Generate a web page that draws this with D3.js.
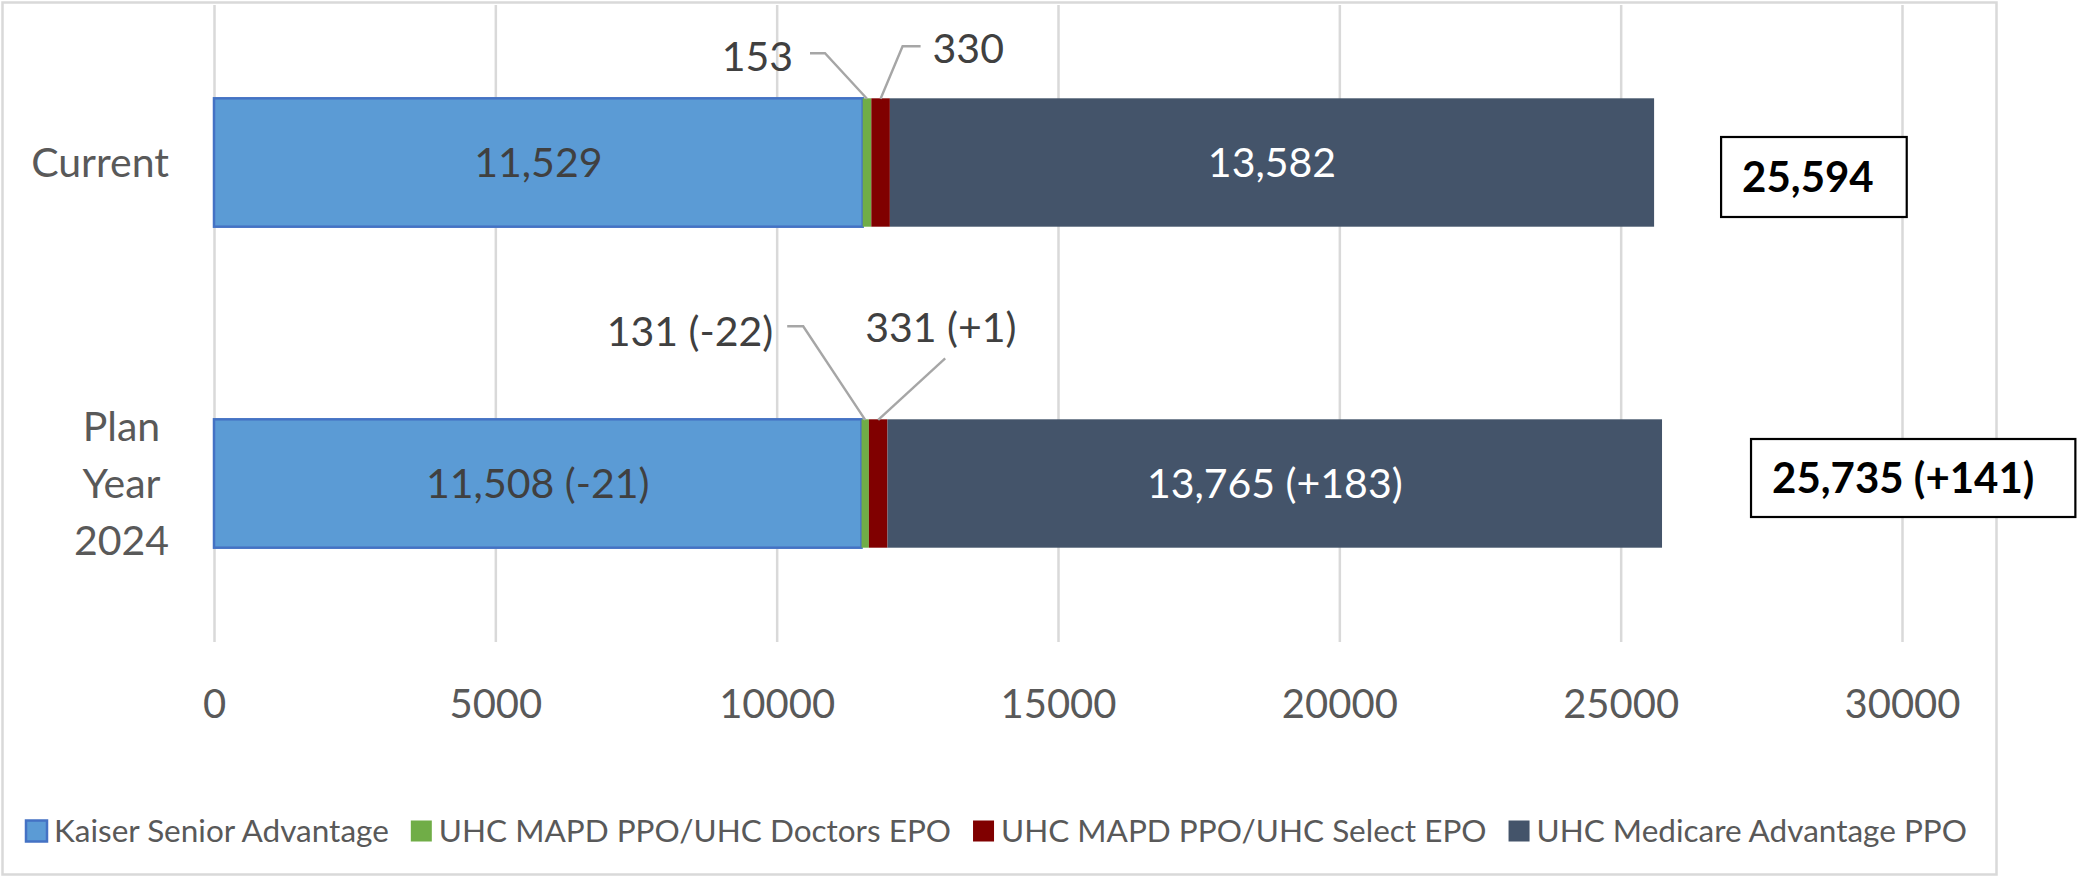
<!DOCTYPE html>
<html>
<head>
<meta charset="utf-8">
<script src="https://cdn.jsdelivr.net/npm/d3@7"></script>
<style>
  html, body { margin: 0; padding: 0; background: #ffffff; }
  svg { display: block; }
  text { font-family: Lato, "Open Sans", sans-serif; }
</style>
</head>
<body>
<svg id="chart" width="2084" height="876"></svg>
<script>
// ---------------- DATA ----------------
const categories = ["Current", "Plan Year 2024"];
const seriesNames = [
  "Kaiser Senior Advantage",
  "UHC MAPD PPO/UHC Doctors EPO",
  "UHC MAPD PPO/UHC Select EPO",
  "UHC Medicare Advantage PPO"
];
const kaiserSenior = [11529, 11508];
const uhcDoctorsEpo = [153, 131];
const uhcSelectEpo = [330, 331];
const uhcMedicareAdv = [13582, 13765];

const kaiserLabels = ["11,529", "11,508 (-21)"];
const doctorsLabels = ["153", "131 (-22)"];
const selectLabels = ["330", "331 (+1)"];
const medicareLabels = ["13,582", "13,765 (+183)"];

const totals = [25594, 25735];
const totalLabels = ["25,594", "25,735 (+141)"];

const xTicks = [0, 5000, 10000, 15000, 20000, 25000, 30000];
const xDomain = [0, 30000];

// ---------------- STYLE / LAYOUT ----------------
const colors = ["#5B9BD5", "#70AD47", "#800000", "#44546A"];
const labelColors = ["#404040", "#404040", "#404040", "#ffffff"];
const W = 2084, H = 876;
const plot = { left: 214, right: 1902, top: 2, bottom: 644, gridTop: 5, gridBottom: 642 };

// callout (leader line) layout for the thin segments, offsets from the top-centre of the segment
const callouts = [
  { s: 1, c: 0, dx: -74, dy: -42, anchor: "end",   pts: [[-42, -45], [-57, -45]] },
  { s: 2, c: 0, dx: 52,  dy: -50, anchor: "start", pts: [[22, -52], [40, -52]] },
  { s: 1, c: 1, dx: -92, dy: -88, anchor: "end",   pts: [[-62, -93], [-78, -93]] },
  { s: 2, c: 1, dx: -13, dy: -92, anchor: "start", pts: [[67, -61]] }
];
// total boxes: offset from bar end, paddings
const totalBoxes = [
  { dx: 67, top: 137, h: 80, padL: 21, padR: 33 },
  { dx: 89, top: 439, h: 78, padL: 21, padR: 41 }
];

// ---------------- BUILD ----------------
const svg = d3.select("#chart");

const table = categories.map((c, i) => ({
  category: c,
  s0: kaiserSenior[i], s1: uhcDoctorsEpo[i], s2: uhcSelectEpo[i], s3: uhcMedicareAdv[i]
}));
const allLabels = [kaiserLabels, doctorsLabels, selectLabels, medicareLabels];

const x = d3.scaleLinear().domain(xDomain).range([plot.left, plot.right]);
const y = d3.scaleBand().domain(categories).range([plot.top, plot.bottom])
  .paddingInner(0.6).paddingOuter(0.3);

// outer chart border
svg.append("rect")
  .attr("x", 2.5).attr("y", 2.5).attr("width", 1994).attr("height", 872)
  .attr("fill", "#ffffff").attr("stroke", "#D9D9D9").attr("stroke-width", 2.5);

// gridlines
const gridAxis = d3.axisBottom(x).tickValues(xTicks)
  .tickSize(-(plot.gridBottom - plot.gridTop)).tickFormat("");
const gridG = svg.append("g")
  .attr("transform", `translate(0,${plot.gridBottom})`)
  .call(gridAxis);
gridG.select(".domain").remove();
gridG.selectAll("line").attr("stroke", "#D9D9D9").attr("stroke-width", 2.5);

// tick labels
const axisG = svg.append("g")
  .attr("transform", `translate(0,${plot.gridBottom})`)
  .call(d3.axisBottom(x).tickValues(xTicks).tickSize(0).tickPadding(0).tickFormat(d3.format("d")));
axisG.select(".domain").remove();
axisG.selectAll("text")
  .attr("y", 76).attr("dy", 0)
  .attr("fill", "#595959").style("font-size", "40px").style("font-family", "Lato");

// stacked bars
const keys = ["s0", "s1", "s2", "s3"];
const stacked = d3.stack().keys(keys)(table);

const segG = svg.append("g");
stacked.forEach((layer, si) => {
  segG.selectAll(null).data(layer).enter().append("rect")
    .attr("x", d => x(d[0]))
    .attr("y", d => y(d.data.category))
    .attr("width", d => x(d[1]) - x(d[0]))
    .attr("height", y.bandwidth())
    .attr("fill", colors[si])
    .attr("stroke", si === 0 ? "#4472C4" : "none")
    .attr("stroke-width", si === 0 ? 2.5 : 0);
});

// inside labels (Kaiser and Medicare Advantage)
[0, 3].forEach(si => {
  svg.append("g").selectAll(null).data(stacked[si]).enter().append("text")
    .attr("x", d => x((d[0] + d[1]) / 2))
    .attr("y", d => y(d.data.category) + y.bandwidth() / 2)
    .attr("dy", "0.36em")
    .attr("text-anchor", "middle")
    .attr("fill", labelColors[si])
    .style("font-size", "41px")
    .text((d, i) => allLabels[si][i]);
});

// callout labels for thin segments
const callG = svg.append("g");
callouts.forEach(co => {
  const d = stacked[co.s][co.c];
  const cx = x((d[0] + d[1]) / 2);
  const ty = y(d.data.category);
  const pts = [[cx, ty + 0.5]].concat(co.pts.map(p => [cx + p[0], ty + p[1]]));
  callG.append("path")
    .attr("d", d3.line()(pts))
    .attr("fill", "none").attr("stroke", "#A6A6A6").attr("stroke-width", 2.4);
  callG.append("text")
    .attr("x", cx + co.dx).attr("y", ty + co.dy).attr("dy", "0.36em")
    .attr("text-anchor", co.anchor)
    .attr("fill", "#404040")
    .style("font-size", "41px")
    .text(allLabels[co.s][co.c]);
});

// category labels (wrapped, right-aligned block, centred lines)
const catG = svg.append("g");
const catRight = 169, lineH = 57;
categories.forEach(cat => {
  const words = cat.split(" ");
  const g = catG.append("g");
  const cy = y(cat) + y.bandwidth() / 2;
  const texts = words.map((w, i) => g.append("text")
    .attr("y", cy + (i - (words.length - 1) / 2) * lineH)
    .attr("dy", "0.36em")
    .attr("text-anchor", "middle")
    .attr("fill", "#595959")
    .style("font-size", "41px")
    .text(w));
  const maxW = d3.max(texts, t => t.node().getComputedTextLength());
  texts.forEach(t => t.attr("x", catRight - maxW / 2));
});

// total boxes
const totG = svg.append("g");
categories.forEach((cat, i) => {
  const b = totalBoxes[i];
  const bx = x(totals[i]) + b.dx;
  const t = totG.append("text")
    .attr("x", bx + b.padL)
    .attr("y", b.top + b.h / 2)
    .attr("dy", "0.36em")
    .attr("fill", "#000000")
    .style("font-size", "42px").style("font-weight", "bold")
    .text(totalLabels[i]);
  const tw = t.node().getComputedTextLength();
  totG.insert("rect", "text")
    .attr("x", bx).attr("y", b.top)
    .attr("width", tw + b.padL + b.padR).attr("height", b.h)
    .attr("fill", "#ffffff").attr("stroke", "#000000").attr("stroke-width", 2.2);
});

// legend
const legG = svg.append("g");
let lx = 26;
const legY = 831, mk = 21;
seriesNames.forEach((name, i) => {
  legG.append("rect")
    .attr("x", lx).attr("y", legY - mk / 2).attr("width", mk).attr("height", mk)
    .attr("fill", colors[i])
    .attr("stroke", i === 0 ? "#4472C4" : "none").attr("stroke-width", i === 0 ? 2.5 : 0);
  const t = legG.append("text")
    .attr("x", lx + mk + 7).attr("y", legY).attr("dy", "0.36em")
    .attr("fill", "#595959")
    .style("font-size", "31.5px")
    .text(name);
  lx += mk + 7 + t.node().getComputedTextLength() + 22;
});
</script>
</body>
</html>
